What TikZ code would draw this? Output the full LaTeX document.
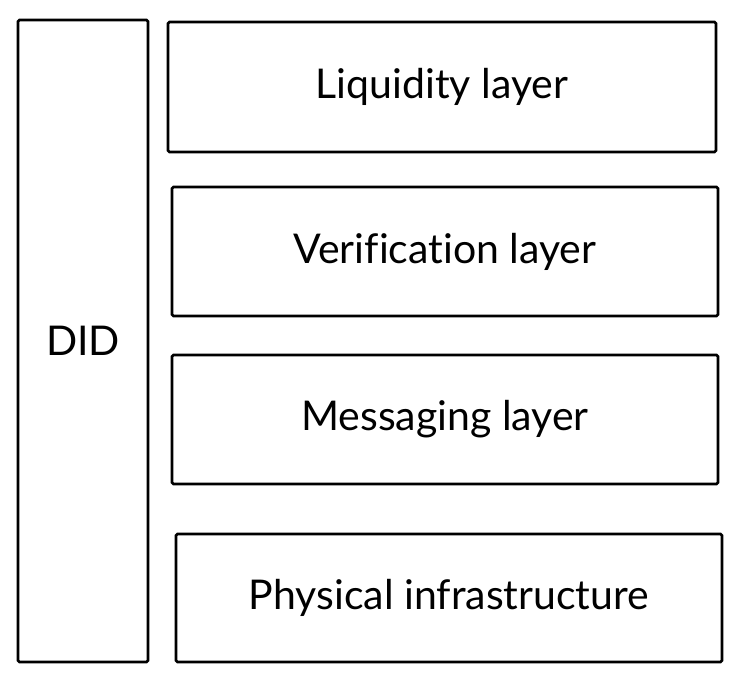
\documentclass[tikz,border=0pt]{standalone}
\usepackage{fontspec}
\setmainfont[Ligatures=NoCommon]{Lato}
\usetikzlibrary{positioning}

\begin{document}
\begin{tikzpicture}[
  x=1pt, y=-1pt,
  layerbox/.style={draw=black, line width=2.6pt, rounded corners=1.5pt, fill=white, inner sep=0pt, font=\fontsize{41}{48}\selectfont}
]
  \useasboundingbox (0,0) rectangle (742,682);
  \node[layerbox, minimum width=130pt, minimum height=642pt] (did) at (83,341) {DID};
  \node[layerbox, minimum width=548pt, minimum height=130pt] (liquidity) at (442,87) {Liquidity layer};
  \node[layerbox, minimum width=546pt, minimum height=129pt] (verification) at (445,251.5) {Verification layer};
  \node[layerbox, minimum width=546pt, minimum height=129pt] (messaging) at (445,419.5) {Messaging layer};
  \node[layerbox, minimum width=546pt, minimum height=128pt] (physical) at (449,598) {Physical infrastructure};
\end{tikzpicture}
\end{document}
